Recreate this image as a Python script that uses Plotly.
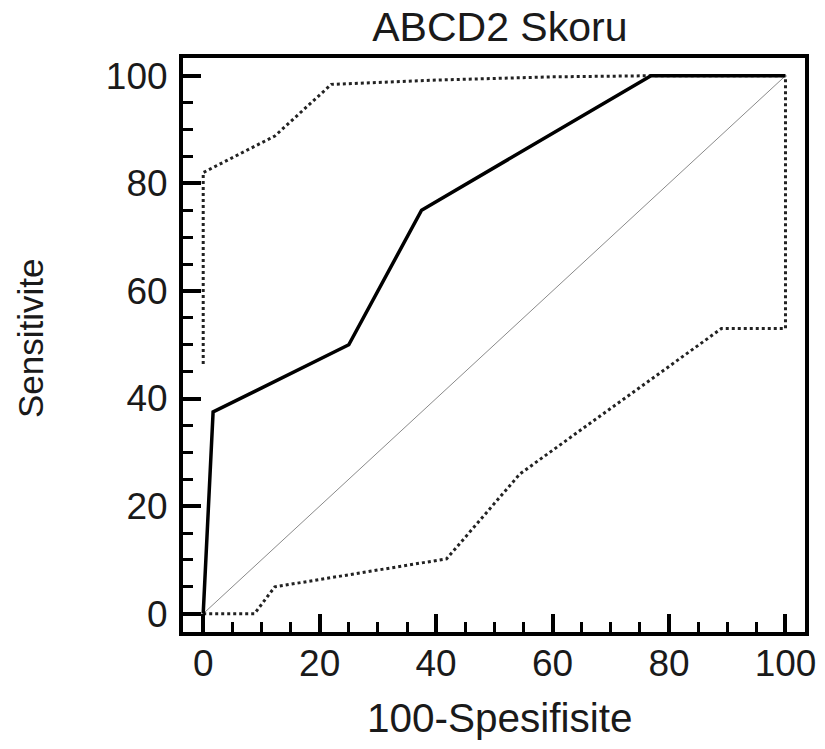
import plotly.graph_objects as go

# ROC curve (ABCD2 score)
roc_x = [0, 1.7, 25, 37.5, 76.9, 100]
roc_y = [0, 37.5, 50, 75, 100, 100]

# upper confidence bound
upper_x = [0, 0, 12.3, 22, 40, 60, 76.9, 100]
upper_y = [46.4, 82, 88.8, 98.4, 99.2, 99.8, 100, 100]

# lower confidence bound
lower_x = [0, 8.8, 12.3, 41.8, 54.4, 89.0, 100, 100]
lower_y = [0, 0, 5, 10.2, 26, 53, 53, 100]

diag = [0, 100]
ticks = [0, 20, 40, 60, 80, 100]

fig = go.Figure()

fig.add_trace(go.Scatter(x=diag, y=diag, mode="lines",
                         line=dict(color="#8a8a8a", width=1)))
fig.add_trace(go.Scatter(x=upper_x, y=upper_y, mode="lines",
                         line=dict(color="#222222", width=3, dash="dot")))
fig.add_trace(go.Scatter(x=lower_x, y=lower_y, mode="lines",
                         line=dict(color="#222222", width=3, dash="dot")))
fig.add_trace(go.Scatter(x=roc_x, y=roc_y, mode="lines",
                         line=dict(color="black", width=3.5)))

fam = "Liberation Sans, Arial, sans-serif"
tick_font = dict(family=fam, size=37, color="#1a1a1a")

# page body has an 8px margin, so the figure is a bit smaller than the window
fig.update_layout(
    width=809, height=733,
    paper_bgcolor="white", plot_bgcolor="white",
    showlegend=False,
    margin=dict(l=175, r=12, t=50, b=109),
    title=dict(text="ABCD2 Skoru", x=0.608, xanchor="center", y=0.974, yanchor="middle",
               font=dict(family=fam, size=41, color="#1a1a1a")),
    font=tick_font,
)

# axis titles as annotations so they sit exactly where the reference has them
fig.add_annotation(text="100-Spesifisite", xref="paper", yref="paper",
                   x=0.51, y=-0.15, xanchor="center", yanchor="middle",
                   showarrow=False, font=dict(family=fam, size=40.5, color="#1a1a1a"))
fig.add_annotation(text="Sensitivite", xref="paper", yref="paper",
                   x=-0.246, y=0.512, xanchor="center", yanchor="middle", textangle=-90,
                   showarrow=False, font=dict(family=fam, size=35, color="#1a1a1a"))

fig.update_xaxes(
    range=[-3.47, 103.35], showgrid=False, zeroline=False, automargin=False,
    showline=True, linecolor="black", linewidth=4, mirror=True,
    ticks="inside", ticklen=18, tickwidth=4, tickcolor="black",
    tickvals=ticks, ticklabelstandoff=-4,
    minor=dict(ticks="inside", ticklen=10, tickwidth=3, tickcolor="black", dtick=5, tick0=0),
    tickfont=tick_font,
)
fig.update_yaxes(
    range=[-3.4, 103.3], showgrid=False, zeroline=False, automargin=False,
    showline=True, linecolor="black", linewidth=4, mirror=True,
    ticks="inside", ticklen=18, tickwidth=4, tickcolor="black",
    tickvals=ticks, ticklabelstandoff=4,
    minor=dict(ticks="inside", ticklen=10, tickwidth=3, tickcolor="black", dtick=5, tick0=0),
    tickfont=tick_font,
)

fig.write_html("out.html")
